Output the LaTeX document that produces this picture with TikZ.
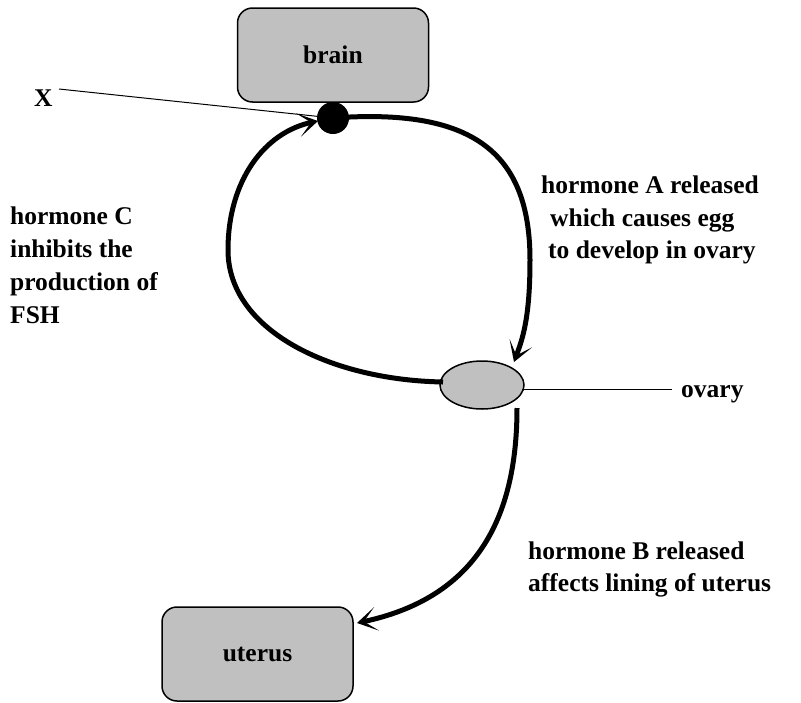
\documentclass[tikz,border=0pt]{standalone}
\usepackage{fontspec}
\setmainfont{Liberation Serif}
\usetikzlibrary{arrows.meta,shapes.geometric}
\definecolor{boxgray}{HTML}{C0C0C0}
\tikzset{
  organ/.style={draw=black, line width=1.5pt, fill=boxgray, rounded corners=15pt,
    minimum width=191pt, minimum height=94pt, inner sep=0pt,
    font=\fontsize{25.5}{30}\selectfont\bfseries},
  lbl/.style={anchor=base west, inner sep=0pt, font=\fontsize{25.5}{30}\selectfont\bfseries},
  thick flow/.style={line width=5pt},
  flow/.style={line width=5pt,
    -{Stealth[length=20pt,width=24pt,inset=13pt]}},
  thin/.style={line width=1pt}
}
\begin{document}
\begin{tikzpicture}[x=1pt,y=-1pt]
\useasboundingbox (0,0) rectangle (801,702);
% organs
\node[organ] (brain) at (333,55) {brain};
\node[organ] (uterus) at (257.5,654) {uterus};
\node[draw=black, line width=1.5pt, fill=boxgray, ellipse, minimum width=84pt, minimum height=48pt, inner sep=0pt] (ovary) at (482,385) {};
\node[circle, fill=black, minimum size=32pt, inner sep=0pt] (dot) at (333,118) {};
% labels
\node[lbl] (X) at (34,106) {X};
\node[lbl] (ovlbl) at (681,397) {ovary};
\coordinate (ovin) at (522,389);
\coordinate (ovend) at (672,389);
\coordinate (xs) at (59,89);
\draw[thin] (xs) -- (dot.center);
\draw[thin] (ovin) -- (ovend);
% flows
\coordinate (topin) at (514,362);
\coordinate (botout) at (517,408);
\coordinate (leftout) at (443,382);
\coordinate (dotin) at (318,121);
\coordinate (utin) at (357,623);
\coordinate (rmid) at (530,260);
\coordinate (lmid) at (228,250);
\draw[thick flow] (dot.center) .. controls (470,108) and (530,150) .. (rmid);
\draw[flow] (rmid) .. controls (530,320) and (522,340) .. (topin);
\draw[thick flow] (leftout) .. controls (330,380) and (228,330) .. (lmid);
\draw[flow] (lmid) .. controls (228,180) and (265,132) .. (dotin);
\draw[flow] (botout) .. controls (517,520) and (475,598) .. (utin);
% texts
\node[lbl] (a1) at (541,193) {hormone A released};
\node[lbl] (a2) at (550,226) {which causes egg};
\node[lbl] (a3) at (548,258) {to develop in ovary};
\node[lbl] (c1) at (10,224) {hormone C};
\node[lbl] (c2) at (10,257) {inhibits the};
\node[lbl] (c3) at (10,290) {production of};
\node[lbl] (c4) at (10,323) {FSH};
\node[lbl] (b1) at (528,559) {hormone B released};
\node[lbl] (b2) at (528,591) {affects lining of uterus};
\end{tikzpicture}
\end{document}
